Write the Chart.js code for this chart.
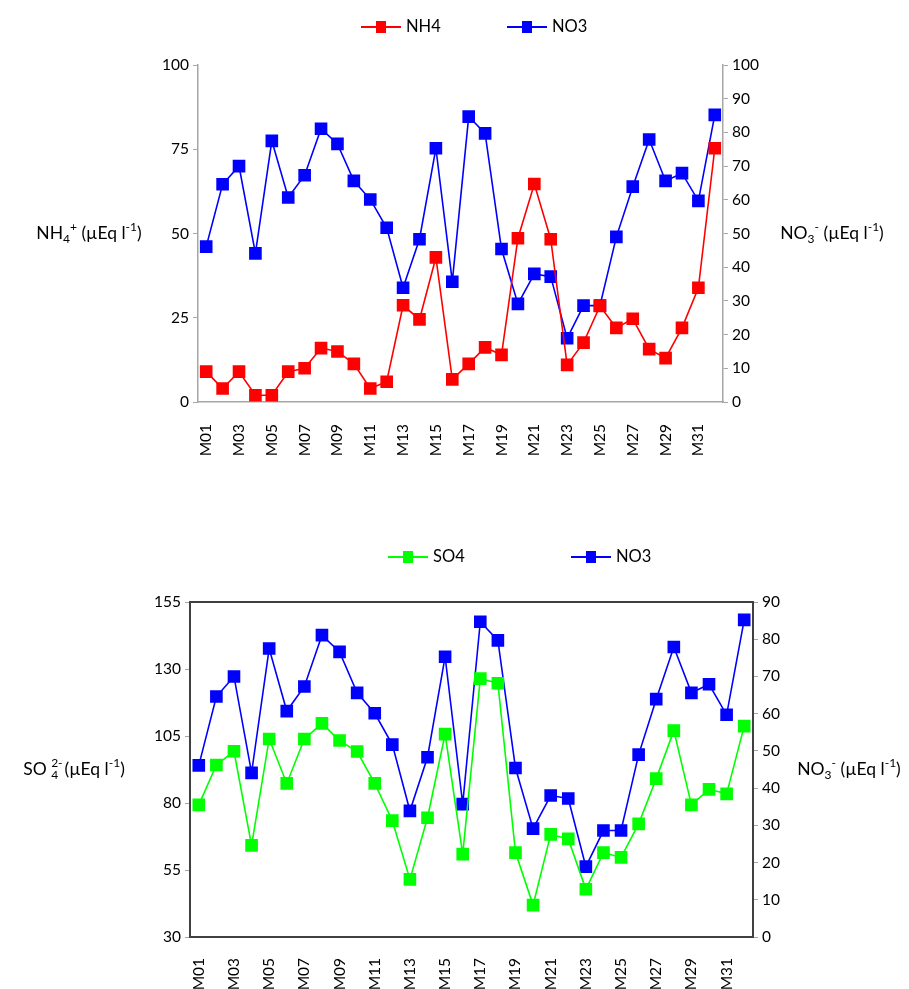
<!DOCTYPE html>
<html><head><meta charset="utf-8">
<script src="https://cdn.jsdelivr.net/npm/chart.js@4"></script>
<style>
body{margin:0;background:#fff;width:909px;height:989px;overflow:hidden;position:relative}
canvas{position:absolute;left:0}
</style></head><body>
<canvas id="c1" width="909" height="490" style="top:0"></canvas>
<canvas id="c2" width="909" height="499" style="top:490px"></canvas>
<script>
const months = ["M01","M02","M03","M04","M05","M06","M07","M08","M09","M10","M11","M12","M13","M14","M15","M16",
                "M17","M18","M19","M20","M21","M22","M23","M24","M25","M26","M27","M28","M29","M30","M31","M32"];
const nh4 = [9,4,9,2,2,9,10,16,15,11.3,4,6,28.7,24.5,42.9,6.7,11.3,16.2,14,48.6,64.7,48.3,11,17.6,28.5,22,24.7,15.7,13,22,33.9,75.3];
const no3 = [46.1,64.6,70,44.1,77.5,60.7,67.3,81.1,76.6,65.6,60.1,51.7,33.9,48.3,75.3,35.7,84.7,79.7,45.4,29.1,38,37.2,18.9,28.6,28.6,49,63.9,77.9,65.6,67.9,59.7,85.2];
const so4 = [79.3,94.2,99.3,64.2,103.9,87.3,103.9,109.7,103.3,99.2,87.3,73.4,51.5,74.5,105.7,60.9,126.4,124.7,61.5,41.9,68.3,66.6,47.8,61.5,59.7,72.2,89.1,107,79.3,85.1,83.4,108.7];
const seriesNames = {nh4:"NH4", no3:"NO3", so4:"SO4"};
const topLeftAxis = {min:0, max:100, step:25};
const topRightAxis = {min:0, max:100, step:10};
const botLeftAxis = {min:30, max:155, step:25};
const botRightAxis = {min:0, max:90, step:10};

const FONT = "Lato, 'Open Sans', sans-serif";
const RED="#ff0000", BLUE="#0000ff", GREEN="#00ff00";

function drawRich(ctx, segs, cx, cy, size){
  ctx.save();
  ctx.fillStyle="#000"; ctx.textBaseline="middle"; ctx.textAlign="left";
  const small=Math.round(size*0.66);
  let total=0;
  segs.forEach(s=>{
    if(s.stack){
      ctx.font=small+"px "+FONT;
      s.w=Math.max(ctx.measureText(s.sup).width, ctx.measureText(s.sub).width)+2;
    } else {
      ctx.font=((s.sub||s.sup)?small:size)+"px "+FONT;
      s.w=ctx.measureText(s.t).width;
    }
    total+=s.w;
  });
  let x=cx-total/2;
  segs.forEach(s=>{
    if(s.stack){
      ctx.font=small+"px "+FONT;
      ctx.fillText(s.sup,x,cy-size*0.38);
      ctx.fillText(s.sub,x,cy+size*0.3);
    } else {
      ctx.font=((s.sub||s.sup)?small:size)+"px "+FONT;
      const dy=s.sup?-size*0.38:(s.sub?size*0.3:0);
      ctx.fillText(s.t,x,cy+dy);
    }
    x+=s.w;
  });
  ctx.restore();
}

const decor = {
  id:"decor",
  afterDraw(chart, args, opts){
    const ctx=chart.ctx;
    const ca=chart.chartArea;
    if(opts.box){
      ctx.save(); ctx.strokeStyle="#404040"; ctx.lineWidth=2;
      ctx.strokeRect(ca.left, ca.top, ca.right-ca.left, ca.bottom-ca.top);
      ctx.restore();
    }
    const cy=(ca.top+ca.bottom)/2 + (opts.titleDy||0);
    drawRich(ctx, opts.leftTitle, opts.leftX, cy, 17.5);
    drawRich(ctx, opts.rightTitle, opts.rightX, cy, 17.5);
    opts.legend.forEach((it,i)=>{
      const ds=chart.data.datasets[i];
      ctx.save();
      ctx.strokeStyle=ds.borderColor; ctx.lineWidth=2;
      ctx.beginPath(); ctx.moveTo(it.x-20,opts.legendY); ctx.lineTo(it.x+20,opts.legendY); ctx.stroke();
      ctx.fillStyle=ds.backgroundColor;
      ctx.fillRect(it.x-5,opts.legendY-6,10,12);
      ctx.fillStyle="#000"; ctx.font="16.5px "+FONT; ctx.textBaseline="middle"; ctx.textAlign="left";
      ctx.fillText(ds.label, it.x+25, opts.legendY);
      ctx.restore();
    });
  }
};

function yAxis(pos, r, gray, w){
  return {
    type:"linear", position:pos, min:r.min, max:r.max,
    afterFit(s){ s.width=w; },
    ticks:{stepSize:r.step, color:"#000", font:{size:15.5,family:FONT}, padding:4},
    grid:{drawOnChartArea:false, drawTicks:true, tickLength:5, color:gray},
    border:{color:gray, width:1.5}
  };
}
function xAxis(gray, h, pad){
  return {
    type:"category", offset:true,
    afterFit(s){ s.height=h; },
    ticks:{autoSkip:false, maxRotation:90, minRotation:90, color:"#000", font:{size:15.5,family:FONT}, padding:pad,
      callback(v,i){ return i%2===0 ? months[i] : ""; }},
    grid:{display:false, drawTicks:false},
    border:{color:gray, width:1.5}
  };
}
function ds(label, data, color, axis){
  return {label, data, borderColor:color, backgroundColor:color, pointBackgroundColor:color, pointBorderColor:color,
    pointStyle:"rect", pointRadius:7.8, pointHoverRadius:7.8, borderWidth:1.6, yAxisID:axis, tension:0, fill:false};
}

new Chart(document.getElementById("c1"), {
  type:"line",
  data:{labels:months, datasets:[ds(seriesNames.nh4, nh4, RED, "yL"), ds(seriesNames.no3, no3, BLUE, "yR")]},
  options:{
    responsive:false, animation:false, events:[],
    layout:{padding:{left:148, right:136, top:65, bottom:28}},
    scales:{ x:xAxis("#a6a6a6",60,22), yL:yAxis("left",topLeftAxis,"#a6a6a6",50), yR:yAxis("right",topRightAxis,"#a6a6a6",50) },
    plugins:{legend:{display:false}, tooltip:{enabled:false},
      decor:{box:false, leftX:89, rightX:832, titleDy:0, legendY:27, legend:[{x:381},{x:527}],
        leftTitle:[{t:"NH"},{t:"4",sub:true},{t:"+",sup:true},{t:" (µEq l"},{t:"-1",sup:true},{t:")"}],
        rightTitle:[{t:"NO"},{t:"3",sub:true},{t:"-",sup:true},{t:" (µEq l"},{t:"-1",sup:true},{t:")"}]}}
  },
  plugins:[decor]
});

new Chart(document.getElementById("c2"), {
  type:"line",
  data:{labels:months, datasets:[ds(seriesNames.so4, so4, GREEN, "yL"), ds(seriesNames.no3, no3, BLUE, "yR")]},
  options:{
    responsive:false, animation:false, events:[],
    layout:{padding:{left:140, right:106, top:112, bottom:0}},
    scales:{ x:xAxis("#404040",52,21), yL:yAxis("left",botLeftAxis,"#a6a6a6",50), yR:yAxis("right",botRightAxis,"#a6a6a6",50) },
    plugins:{legend:{display:false}, tooltip:{enabled:false},
      decor:{box:true, leftX:74, rightX:849, titleDy:0, legendY:67, legend:[{x:408},{x:591}],
        leftTitle:[{t:"SO "},{stack:true,sup:"2-",sub:"4"},{t:"(µEq l"},{t:"-1",sup:true},{t:")"}],
        rightTitle:[{t:"NO"},{t:"3",sub:true},{t:"-",sup:true},{t:" (µEq l"},{t:"-1",sup:true},{t:")"}]}}
  },
  plugins:[decor]
});
</script>
</body></html>
